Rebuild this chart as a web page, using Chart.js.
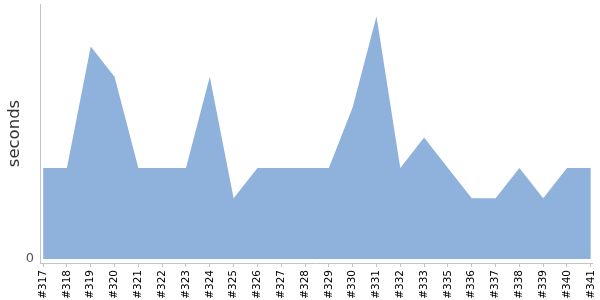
<!DOCTYPE html>
<html>
<head>
<meta charset="utf-8">
<script src="https://cdn.jsdelivr.net/npm/chart.js@4"></script>
<style>
  html, body { margin: 0; padding: 0; background: #fff; }
  #wrap { width: 600px; height: 300px; }
</style>
</head>
<body>
<div id="wrap"><canvas id="buildChart"></canvas></div>
<script>
// build numbers on the x axis (no #334 in the source)
const builds = ['#317', '#318', '#319', '#320', '#321', '#322', '#323', '#324',
    '#325', '#326', '#327', '#328', '#329', '#330', '#331', '#332', '#333',
    '#335', '#336', '#337', '#338', '#339', '#340', '#341'];

// build duration, seconds
const durations = [3, 3, 7, 6, 3, 3, 3, 6, 2, 3, 3, 3, 3, 5, 8, 3, 4, 3, 2, 2, 3, 2, 3, 3];

const yTicks = [0];

const axisColor = '#c4c4c4';

new Chart(document.getElementById('buildChart'), {
    type: 'line',
    data: {
        datasets: [{
            label: 'duration',
            data: durations.map((v, i) => ({ x: i, y: v })),
            borderColor: 'rgba(0,0,0,0)',
            borderWidth: 0,
            backgroundColor: 'rgb(143, 178, 220)',
            fill: 'origin',
            pointRadius: 0,
            tension: 0
        }]
    },
    options: {
        responsive: true,
        maintainAspectRatio: false,
        animation: false,
        layout: { padding: { top: 4, right: 8, left: 0, bottom: 0 } },
        plugins: {
            legend: { display: false },
            tooltip: { enabled: false }
        },
        scales: {
            x: {
                type: 'linear',
                min: -0.13,
                max: 23.05,
                afterBuildTicks: (scale) => {
                    scale.ticks = builds.map((_, i) => ({ value: i }));
                },
                grid: {
                    display: true,
                    drawOnChartArea: false,
                    drawTicks: true,
                    tickLength: 4,
                    color: axisColor
                },
                border: { display: true, color: axisColor },
                ticks: {
                    autoSkip: false,
                    minRotation: 90,
                    maxRotation: 90,
                    padding: 3,
                    color: '#000',
                    font: { family: 'DejaVu Sans', size: 10.5 },
                    callback: (value) => builds[value]
                },
                afterFit: (scale) => {
                    scale.height = 37;
                    scale.paddingLeft = 0;
                    scale.paddingRight = 0;
                }
            },
            y: {
                min: -0.13,
                max: 8.4,
                afterBuildTicks: (scale) => {
                    scale.ticks = yTicks.map(v => ({ value: v }));
                },
                grid: { display: false, drawTicks: false },
                border: { display: true, color: axisColor },
                ticks: {
                    padding: 6,
                    color: '#555',
                    font: { family: 'DejaVu Sans', size: 13 }
                },
                title: {
                    display: true,
                    text: 'seconds',
                    color: '#333',
                    padding: { top: 5, bottom: 0 },
                    font: { family: 'DejaVu Sans', size: 16.5 }
                },
                afterFit: (scale) => {
                    scale.width = 40;
                    scale.paddingTop = 0;
                    scale.paddingBottom = 0;
                }
            }
        }
    }
});
</script>
</body>
</html>
